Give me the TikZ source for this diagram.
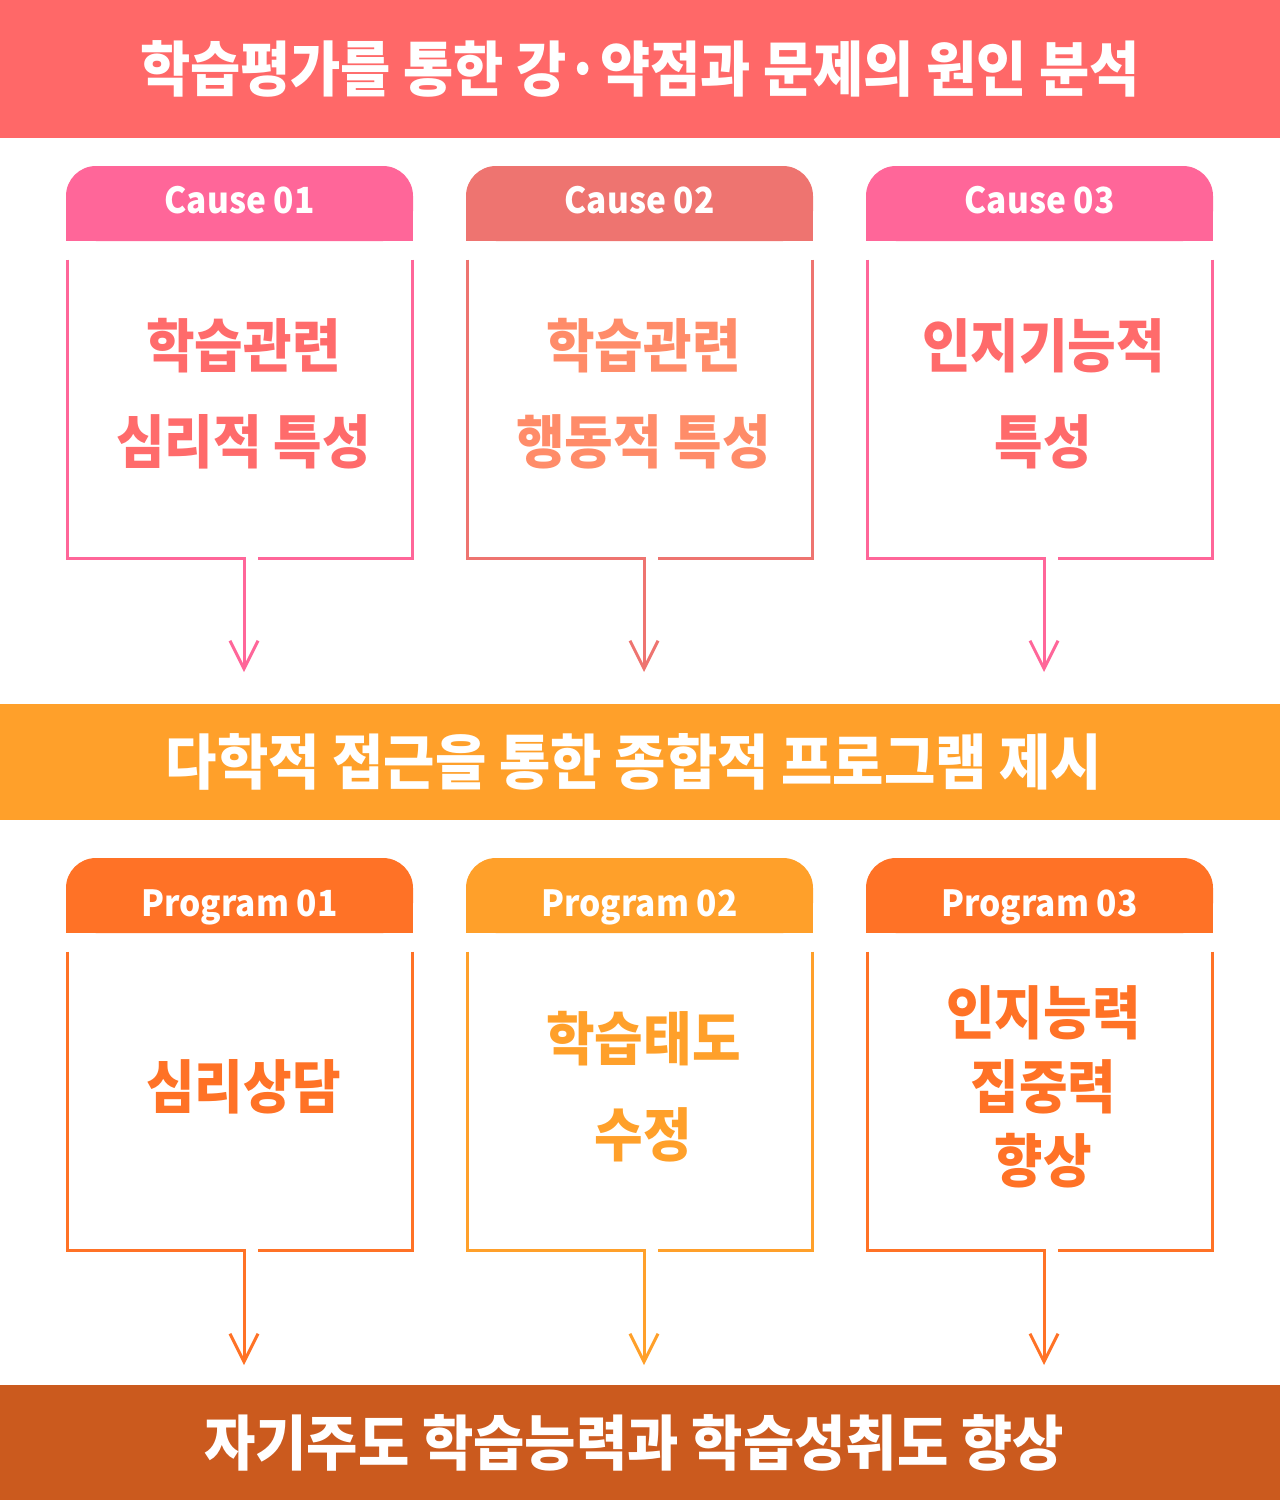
\documentclass[tikz,border=0pt]{standalone}
\usepackage{fontspec}
\usepackage{graphicx}
\setmainfont{Noto Sans CJK KR}
\usetikzlibrary{positioning, arrows.meta}

\definecolor{bannerred}{HTML}{FF6868}
\definecolor{causepink}{HTML}{FF6699}
\definecolor{causerose}{HTML}{EE7470}
\definecolor{txtsalmon}{HTML}{FF6B6B}
\definecolor{txtpeach}{HTML}{FF8C69}
\definecolor{bannerorange}{HTML}{FFA02A}
\definecolor{progorange}{HTML}{FF7226}
\definecolor{bannerbrown}{HTML}{CB5A1E}

\newcommand{\squeeze}[2]{\scalebox{#1}[1]{#2}}
\newcommand{\lines}[1]{\begin{tabular}{@{}c@{}}#1\end{tabular}}

\tikzset{
  banner/.style={minimum width=640pt, inner sep=0pt, text=white, font=\fontsize{30}{36}\selectfont\bfseries},
  tablabel/.style={anchor=base, inner sep=0pt, text=white, font=\fontsize{18}{22}\selectfont\bfseries},
  bodybox/.style={minimum width=172pt, minimum height=149pt, inner sep=0pt},
  bodytext/.style={align=center, inner sep=0pt},
  pointer/.style={-{Straight Barb[length=14pt,width=14pt]}, line width=1.5pt},
  outline/.style={line width=1.5pt}
}

\begin{document}
\begin{tikzpicture}[x=0.5pt, y=-0.5pt]
    \useasboundingbox (0,0) rectangle (1280,1500);
    % banners
    \node[banner, fill=bannerred, minimum height=69pt] (goal) at (640,69) {\raisebox{2pt}{\squeeze{0.91}{학습평가를 통한 강·약점과 문제의 원인 분석}}};
    \node[banner, fill=bannerorange, minimum height=58pt] (plan) at (640,762) {\kern-6pt\squeeze{0.93}{다학적 접근을 통한 종합적 프로그램 제시}};
    \node[banner, fill=bannerbrown, minimum height=57.5pt] (result) at (640,1442.5) {\kern-6pt\squeeze{0.93}{자기주도 학습능력과 학습성취도 향상}};
    % causes
    \foreach \n/\cx/\tabc/\txtc/\body in {1/239.5/causepink/txtsalmon/{학습관련\\심리적 특성}, 2/639.5/causerose/txtpeach/{학습관련\\행동적 특성}, 3/1039.5/causepink/txtsalmon/{인지기능적\\특성}}{
        \fill[\tabc, rounded corners=15pt] (\cx-173.5,166) rectangle (\cx+173.5,241);
        \fill[\tabc] (\cx-173.5,200) rectangle (\cx+173.5,241);
        \node[tablabel] (ctab\n) at (\cx,213) {\squeeze{0.93}{Cause 0\n}};
        \node[bodybox] (cbox\n) at (\cx+0.5,409) {};
        \coordinate (cjoin\n) at (\cx+4.5,558);
        \coordinate (cend\n) at (\cx+4.5,672);
        \draw[pointer, \tabc] (cbox\n.north west) |- (cjoin\n) -- (cend\n);
        \draw[outline, \tabc] (cbox\n.north east) |- ([xshift=7pt]cjoin\n);
        \node[bodytext, text=\txtc, font=\fontsize{29}{48}\selectfont\bfseries] (ctext\n) at (\cx+4,396) {\squeeze{0.91}{\lines{\body}}};
    }
    % programs
    \foreach \n/\cx/\tabc/\lead/\ty/\body in {1/239.5/progorange/48/1089/{심리상담}, 2/639.5/bannerorange/48/1089/{학습태도\\수정}, 3/1039.5/progorange/37/1094/{인지능력\\집중력\\향상}}{
        \fill[\tabc, rounded corners=15pt] (\cx-173.5,858) rectangle (\cx+173.5,933);
        \fill[\tabc] (\cx-173.5,892) rectangle (\cx+173.5,933);
        \node[tablabel] (ptab\n) at (\cx,916) {\squeeze{0.93}{Program 0\n}};
        \node[bodybox] (pbox\n) at (\cx+0.5,1101) {};
        \coordinate (pjoin\n) at (\cx+4.5,1250);
        \coordinate (pend\n) at (\cx+4.5,1365);
        \draw[pointer, \tabc] (pbox\n.north west) |- (pjoin\n) -- (pend\n);
        \draw[outline, \tabc] (pbox\n.north east) |- ([xshift=7pt]pjoin\n);
        \node[bodytext, text=\tabc, font=\fontsize{29}{\lead}\selectfont\bfseries] (ptext\n) at (\cx+4,\ty) {\squeeze{0.91}{\lines{\body}}};
    }
\end{tikzpicture}
\end{document}
